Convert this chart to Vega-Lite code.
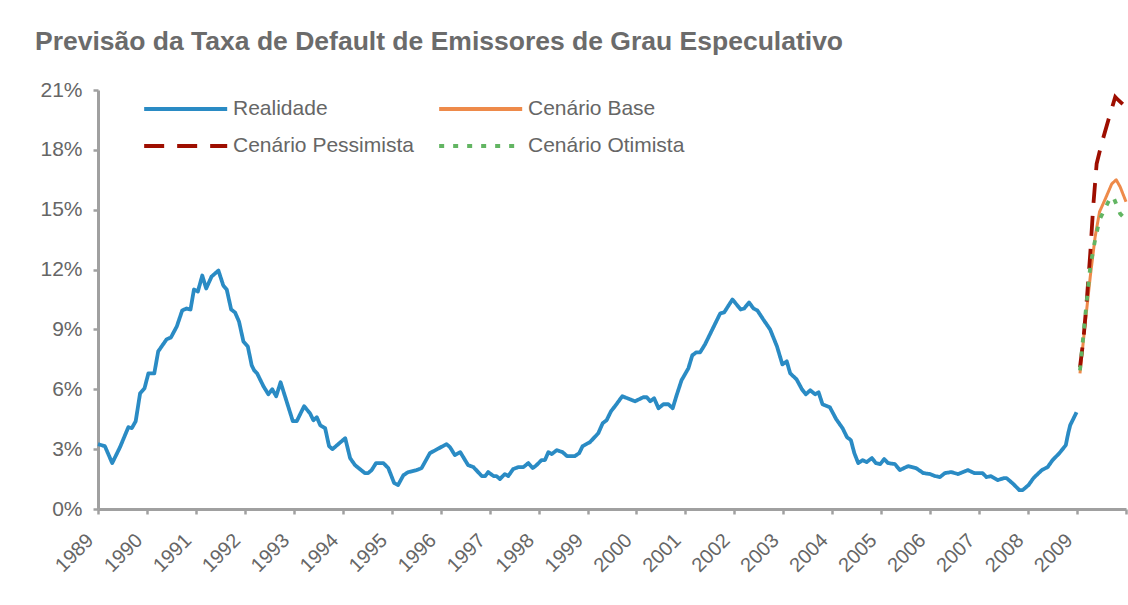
{
  "$schema": "https://vega.github.io/schema/vega-lite/v6.json",
  "width": 1028,
  "height": 419,
  "autosize": {"type": "none"},
  "padding": {"left": 98, "top": 90, "right": 2, "bottom": 96},
  "background": "white",
  "title": {
    "text": "Previsão da Taxa de Default de Emissores de Grau Especulativo",
    "anchor": "start",
    "dx": -5,
    "dy": -15,
    "offset": 9,
    "font": "Liberation Sans",
    "fontSize": 26.5,
    "fontWeight": "bold",
    "color": "#6b6b6b"
  },
  "datasets": {
    "realidade": [
      [1989.0, 3.25], [1989.14, 3.15], [1989.29, 2.3], [1989.45, 3.1], [1989.62, 4.1], [1989.69, 4.05], [1989.77, 4.4], [1989.86, 5.8], [1989.95, 6.05],
      [1990.03, 6.8], [1990.15, 6.8], [1990.23, 7.9], [1990.40, 8.5], [1990.49, 8.6], [1990.61, 9.15], [1990.72, 9.95], [1990.81, 10.05], [1990.89, 10.0], [1990.96, 11.0],
      [1991.04, 10.9], [1991.13, 11.7], [1991.21, 11.05], [1991.32, 11.65], [1991.46, 11.95], [1991.56, 11.2], [1991.63, 11.0], [1991.72, 10.0], [1991.80, 9.85], [1991.88, 9.4], [1991.97, 8.4],
      [1992.06, 8.15], [1992.14, 7.2], [1992.19, 6.95], [1992.25, 6.8], [1992.38, 6.15], [1992.48, 5.75], [1992.56, 6.0], [1992.64, 5.65], [1992.73, 6.35], [1992.82, 5.65], [1992.98, 4.4],
      [1993.06, 4.4], [1993.21, 5.15], [1993.33, 4.8], [1993.40, 4.45], [1993.47, 4.6], [1993.54, 4.2], [1993.64, 4.05], [1993.72, 3.15], [1993.79, 3.0],
      [1994.05, 3.55], [1994.15, 2.55], [1994.25, 2.2], [1994.45, 1.8], [1994.52, 1.8], [1994.59, 1.95], [1994.68, 2.3], [1994.83, 2.3], [1994.93, 2.05],
      [1995.05, 1.3], [1995.13, 1.2], [1995.24, 1.7], [1995.34, 1.85], [1995.51, 1.95], [1995.61, 2.05], [1995.78, 2.8],
      [1996.12, 3.25], [1996.19, 3.1], [1996.29, 2.7], [1996.40, 2.85], [1996.56, 2.2], [1996.67, 2.1], [1996.84, 1.65], [1996.91, 1.65], [1996.97, 1.85],
      [1997.08, 1.65], [1997.14, 1.65], [1997.21, 1.5], [1997.31, 1.75], [1997.38, 1.65], [1997.48, 2.0], [1997.59, 2.1], [1997.69, 2.1], [1997.79, 2.3], [1997.88, 2.05], [1997.96, 2.2],
      [1998.06, 2.45], [1998.13, 2.45], [1998.20, 2.85], [1998.27, 2.75], [1998.37, 2.95], [1998.49, 2.85], [1998.58, 2.65], [1998.74, 2.65], [1998.83, 2.8], [1998.90, 3.15],
      [1999.05, 3.35], [1999.22, 3.8], [1999.31, 4.3], [1999.39, 4.45], [1999.48, 4.9], [1999.56, 5.15], [1999.71, 5.65], [1999.97, 5.4],
      [2000.14, 5.6], [2000.21, 5.6], [2000.28, 5.4], [2000.36, 5.55], [2000.45, 5.05], [2000.55, 5.25], [2000.65, 5.25], [2000.74, 5.05], [2000.82, 5.7], [2000.92, 6.45],
      [2001.06, 7.05], [2001.14, 7.7], [2001.22, 7.85], [2001.30, 7.85], [2001.40, 8.25], [2001.54, 8.95], [2001.71, 9.8], [2001.79, 9.85], [2001.96, 10.5],
      [2002.13, 10.0], [2002.20, 10.05], [2002.30, 10.35], [2002.39, 10.05], [2002.47, 9.95], [2002.59, 9.5], [2002.73, 9.0], [2002.87, 8.15], [2002.98, 7.25],
      [2003.07, 7.4], [2003.14, 6.8], [2003.27, 6.5], [2003.38, 6.0], [2003.46, 5.75], [2003.55, 5.95], [2003.65, 5.75], [2003.72, 5.85], [2003.80, 5.25], [2003.95, 5.1],
      [2004.08, 4.5], [2004.21, 4.05], [2004.30, 3.6], [2004.38, 3.45], [2004.45, 2.8], [2004.53, 2.3], [2004.62, 2.45], [2004.70, 2.35], [2004.81, 2.55], [2004.89, 2.3], [2004.98, 2.25],
      [2005.06, 2.5], [2005.14, 2.3], [2005.28, 2.25], [2005.38, 1.95], [2005.55, 2.15], [2005.71, 2.05], [2005.86, 1.8],
      [2006.00, 1.75], [2006.10, 1.65], [2006.20, 1.6], [2006.30, 1.8], [2006.43, 1.85], [2006.57, 1.75], [2006.77, 1.95], [2006.90, 1.8],
      [2007.07, 1.8], [2007.15, 1.6], [2007.24, 1.65], [2007.38, 1.45], [2007.51, 1.55], [2007.56, 1.55], [2007.70, 1.25], [2007.82, 0.95], [2007.89, 0.95],
      [2008.01, 1.2], [2008.11, 1.55], [2008.28, 1.95], [2008.40, 2.1], [2008.50, 2.45], [2008.64, 2.8], [2008.77, 3.2], [2008.82, 3.8], [2008.86, 4.2], [2008.99, 4.85]
    ],
    "base": [[2009.06, 6.8], [2009.16, 9.15], [2009.27, 11.65], [2009.37, 13.65], [2009.46, 14.9], [2009.57, 15.5], [2009.71, 16.3], [2009.80, 16.5], [2009.88, 16.15], [2010.0, 15.4]],
    "pessimista": [[2009.06, 7.1], [2009.13, 8.5], [2009.20, 10.5], [2009.27, 12.8], [2009.33, 15.15], [2009.40, 17.3], [2009.50, 18.3], [2009.64, 19.5], [2009.78, 20.65], [2009.84, 20.5], [2010.0, 20.15]],
    "otimista": [[2009.06, 6.95], [2009.16, 9.5], [2009.27, 12.15], [2009.37, 13.5], [2009.46, 14.5], [2009.67, 15.55], [2009.74, 15.65], [2009.88, 14.8], [2010.0, 14.5]]
  },
  "layer": [
    {
      "data": {"name": "realidade"},
      "transform": [{"calculate": "'Realidade'", "as": "serie"}, {"calculate": "datum[0]", "as": "ano"}, {"calculate": "datum[1]", "as": "taxa"}],
      "mark": {"type": "line", "strokeWidth": 3.8, "strokeJoin": "round", "strokeCap": "butt"},
      "encoding": {
        "x": {"field": "ano", "type": "quantitative"},
        "y": {"field": "taxa", "type": "quantitative"},
        "color": {"field": "serie", "type": "nominal"},
        "strokeDash": {"field": "serie", "type": "nominal"}
      }
    },
    {
      "data": {"name": "base"},
      "transform": [{"calculate": "'Cenário Base'", "as": "serie"}, {"calculate": "datum[0]", "as": "ano"}, {"calculate": "datum[1]", "as": "taxa"}],
      "mark": {"type": "line", "strokeWidth": 3, "strokeJoin": "round"},
      "encoding": {
        "x": {"field": "ano", "type": "quantitative"},
        "y": {"field": "taxa", "type": "quantitative"},
        "color": {"field": "serie", "type": "nominal"},
        "strokeDash": {"field": "serie", "type": "nominal"}
      }
    },
    {
      "data": {"name": "pessimista"},
      "transform": [{"calculate": "'Cenário Pessimista'", "as": "serie"}, {"calculate": "datum[0]", "as": "ano"}, {"calculate": "datum[1]", "as": "taxa"}],
      "mark": {"type": "line", "strokeWidth": 3.8},
      "encoding": {
        "x": {"field": "ano", "type": "quantitative"},
        "y": {"field": "taxa", "type": "quantitative"},
        "color": {"field": "serie", "type": "nominal"},
        "strokeDash": {"field": "serie", "type": "nominal"}
      }
    },
    {
      "data": {"name": "otimista"},
      "transform": [{"calculate": "'Cenário Otimista'", "as": "serie"}, {"calculate": "datum[0]", "as": "ano"}, {"calculate": "datum[1]", "as": "taxa"}],
      "mark": {"type": "line", "strokeWidth": 3.8},
      "encoding": {
        "x": {"field": "ano", "type": "quantitative"},
        "y": {"field": "taxa", "type": "quantitative"},
        "color": {"field": "serie", "type": "nominal"},
        "strokeDash": {"field": "serie", "type": "nominal"}
      }
    }
  ],
  "resolve": {"scale": {"color": "shared", "strokeDash": "shared"}},
  "encoding": {
    "x": {
      "field": "ano", "type": "quantitative",
      "scale": {"domain": [1989, 2010], "nice": false, "zero": false},
      "axis": {
        "title": null,
        "values": [1989, 1990, 1991, 1992, 1993, 1994, 1995, 1996, 1997, 1998, 1999, 2000, 2001, 2002, 2003, 2004, 2005, 2006, 2007, 2008, 2009, 2010],
        "labelExpr": "datum.value == 2010 ? '' : '' + datum.value",
        "labelAngle": -45,
        "labelAlign": "right",
        "labelBaseline": "middle",
        "labelPadding": 23,
        "labelDx": -12,
        "labelOffset": -8,
        "grid": false,
        "domainColor": "#a0a0a0",
        "domainWidth": 3,
        "tickColor": "#a0a0a0",
        "tickWidth": 2.5,
        "tickSize": 5,
        "labelFont": "Liberation Sans",
        "labelFontSize": 20,
        "labelColor": "#666666",
        "labelOverlap": false,
        "labelBound": false,
        "labelFlush": false
      }
    },
    "y": {
      "field": "taxa", "type": "quantitative",
      "scale": {"domain": [0, 21], "nice": false},
      "axis": {
        "title": null,
        "values": [0, 3, 6, 9, 12, 15, 18, 21],
        "labelExpr": "datum.value + '%'",
        "grid": false,
        "domainColor": "#a0a0a0",
        "domainWidth": 3,
        "tickColor": "#a0a0a0",
        "tickWidth": 2.5,
        "tickSize": 5,
        "labelPadding": 11,
        "labelFont": "Liberation Sans",
        "labelFontSize": 21,
        "labelColor": "#666666",
        "labelOverlap": false,
        "labelBound": false,
        "labelFlush": false
      }
    },
    "color": {
      "field": "serie", "type": "nominal",
      "scale": {
        "domain": ["Realidade", "Cenário Pessimista", "Cenário Base", "Cenário Otimista"],
        "range": ["#2a8bc4", "#9e0e00", "#ee8a4a", "#62b562"]
      },
      "legend": {
        "title": null,
        "orient": "none",
        "legendX": 44,
        "legendY": 3,
        "columns": 2,
        "symbolType": "M-1,0H5",
        "symbolSize": 766,
        "symbolStrokeWidth": 4,
        "symbolFillColor": "transparent",
        "labelFont": "Liberation Sans",
        "labelFontSize": 21,
        "labelColor": "#666666",
        "labelOffset": 59,
        "columnPadding": 17,
        "rowPadding": 11,
        "labelLimit": 400
      }
    },
    "strokeDash": {
      "field": "serie", "type": "nominal",
      "scale": {
        "domain": ["Realidade", "Cenário Pessimista", "Cenário Base", "Cenário Otimista"],
        "range": [[1, 0], [20, 13], [1, 0], [5, 9]]
      },
      "legend": {
        "title": null,
        "orient": "none",
        "legendX": 44,
        "legendY": 3,
        "columns": 2,
        "symbolType": "M-1,0H5",
        "symbolSize": 766,
        "symbolStrokeWidth": 4,
        "symbolFillColor": "transparent",
        "labelFont": "Liberation Sans",
        "labelFontSize": 21,
        "labelColor": "#666666",
        "labelOffset": 59,
        "columnPadding": 17,
        "rowPadding": 11,
        "labelLimit": 400
      }
    }
  },
  "config": {
    "view": {"stroke": null}
  }
}
